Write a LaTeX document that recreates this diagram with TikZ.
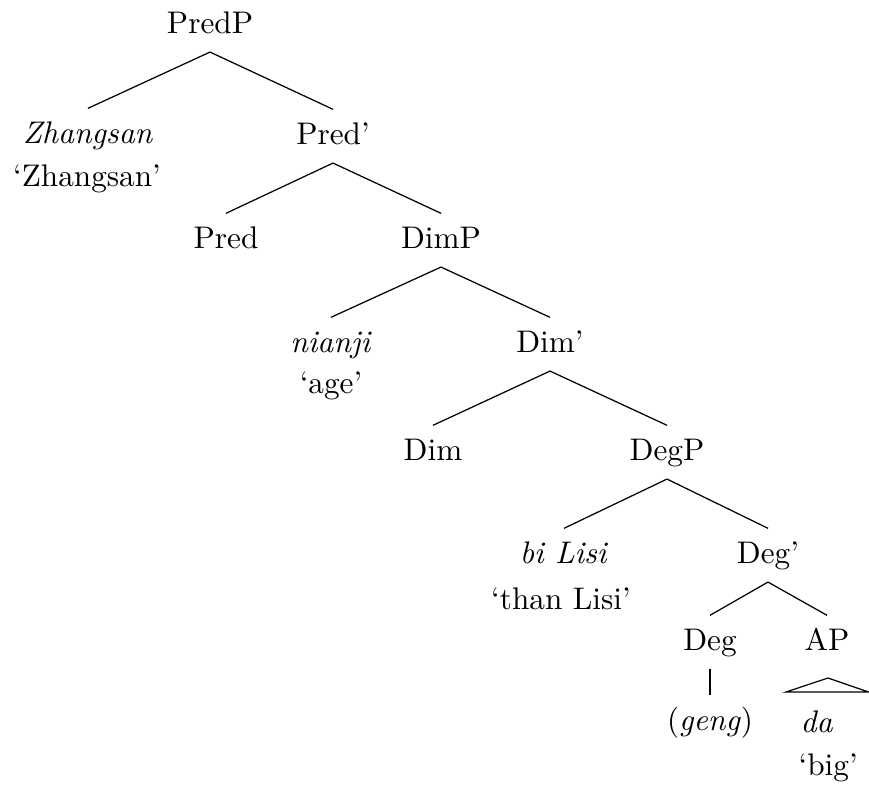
\documentclass[tikz,border=0pt]{standalone}
\begin{document}
\begin{tikzpicture}[x=0.32pt,y=-0.32pt,
  lab/.style={anchor=base,inner xsep=0pt,inner ysep=3.9pt,text height=7pt,text depth=2pt},
  gloss/.style={anchor=base,inner sep=0pt},
  br/.style={line width=0.4pt}]
\useasboundingbox (0,0) rectangle (869,792);
% nodes
\node[lab] (PredP) at (210,33) {PredP};
\node[lab] (Zh) at (88,143) {\textit{Zhangsan}};
\node[gloss] (ZhG) at (87,186) {`Zhangsan'};
\node[lab] (PredBar) at (333,144) {Pred'};
\node[lab] (Pred) at (226,248) {Pred};
\node[lab] (DimP) at (441,248) {DimP};
\node[lab] (nianji) at (331,352) {\textit{nianji}};
\node[gloss] (nianjiG) at (331,393) {`age'};
\node[lab] (DimBar) at (550,352) {Dim'};
\node[lab] (Dim) at (433,460) {Dim};
\node[lab] (DegP) at (667,460) {DegP};
\node[lab] (biLisi) at (564,563) {\textit{bi Lisi}};
\node[gloss] (biLisiG) at (561,609) {`than Lisi'};
\node[lab] (DegBar) at (768,563) {Deg'};
\node[lab] (Deg) at (710,650) {Deg};
\node[lab] (AP) at (827,650) {AP};
\node[lab] (geng) at (710,730) {(\textit{geng})};
\node[gloss,anchor=base west] (da) at (800,732) {\textit{da}};
\node[gloss,anchor=base west] (big) at (798,775) {`big'};
\coordinate (roofA) at (828,678);
\coordinate (roofL) at (786,692);
\coordinate (roofR) at (868.5,692);
% branches
\draw[br] (PredP.south) -- (Zh.north);
\draw[br] (PredP.south) -- (PredBar.north);
\draw[br] (PredBar.south) -- (Pred.north);
\draw[br] (PredBar.south) -- (DimP.north);
\draw[br] (DimP.south) -- (nianji.north);
\draw[br] (DimP.south) -- (DimBar.north);
\draw[br] (DimBar.south) -- (Dim.north);
\draw[br] (DimBar.south) -- (DegP.north);
\draw[br] (DegP.south) -- (biLisi.north);
\draw[br] (DegP.south) -- (DegBar.north);
\draw[br] (DegBar.south) -- (Deg.north);
\draw[br] (DegBar.south) -- (AP.north);
\draw[br] (Deg.south) -- (geng.north);
\draw[br] (roofA) -- (roofL) -- (roofR) -- cycle;
\end{tikzpicture}
\end{document}
